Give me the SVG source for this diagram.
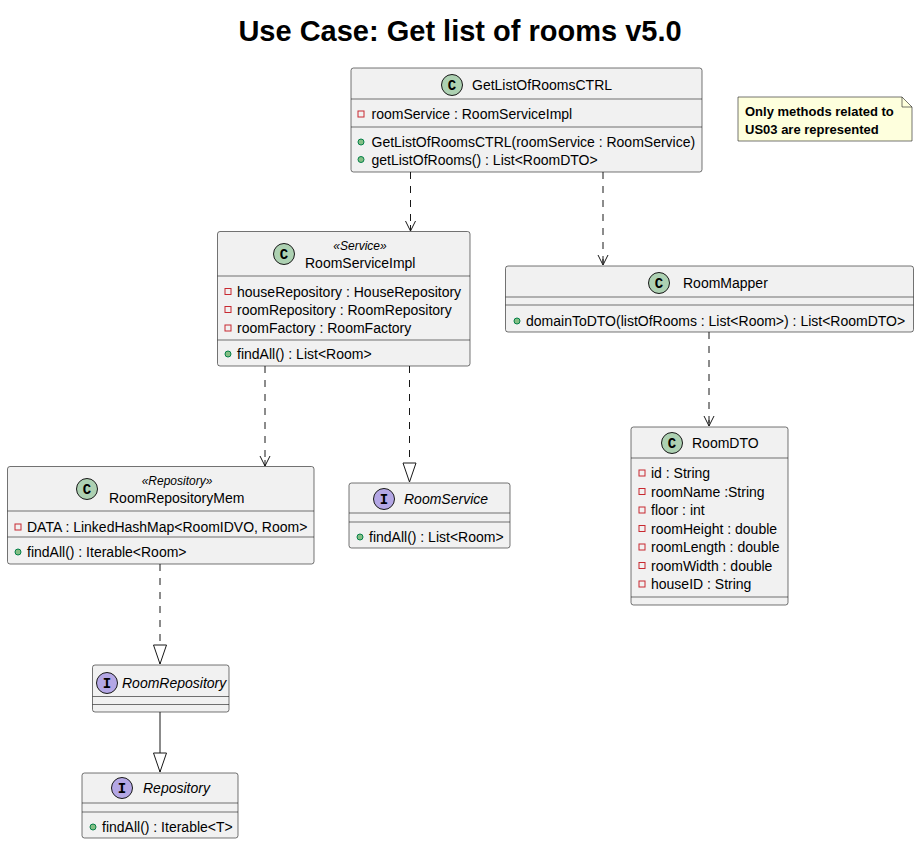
<svg xmlns="http://www.w3.org/2000/svg" width="920" height="845" viewBox="0 0 920 845">
<defs>
<style>
text{font-family:"Liberation Sans",Arial,sans-serif;fill:#000;}
.title{font-size:29px;font-weight:bold;}
.name{font-size:14px;}
.iname{font-size:14px;font-style:italic;}
.st{font-size:12px;font-style:italic;}
.m{font-size:14px;}
.note{font-size:13px;font-weight:bold;}
.box{fill:#F1F1F1;stroke:#181818;stroke-width:0.6;}
.sep{stroke:#181818;stroke-width:0.6;}
.cc{fill:#ADD1B2;stroke:#181818;stroke-width:1;}
.ci{fill:#B4A7E5;stroke:#181818;stroke-width:1;}
.cl{font-size:14px;font-weight:bold;text-anchor:middle;font-family:"Liberation Mono","Courier New",monospace;}
.priv{fill:none;stroke:#C82930;stroke-width:1;}
.pub{fill:#84BE84;stroke:#038048;stroke-width:1;}
.dep{stroke:#181818;stroke-width:1;fill:none;stroke-dasharray:7,7;}
.sol{stroke:#181818;stroke-width:1;fill:none;}
</style>
<marker id="open" markerUnits="userSpaceOnUse" markerWidth="14" markerHeight="14" viewBox="0 0 14 14" refX="11" refY="7" orient="auto">
<path d="M1,2 L11,7 L1,12 M5,7 L11,7" fill="none" stroke="#181818" stroke-width="1"/>
</marker>
<marker id="tri" markerUnits="userSpaceOnUse" markerWidth="22" markerHeight="16" viewBox="0 0 22 16" refX="20" refY="8" orient="auto">
<path d="M1,1.5 L20,8 L1,14.5 Z" fill="#fff" stroke="#181818" stroke-width="1"/>
</marker>
</defs>
<rect width="920" height="845" fill="#fff"/>
<text class="title" x="460" y="41" text-anchor="middle">Use Case: Get list of rooms v5.0</text>

<g id="connectors">
<line class="dep" x1="410.5" y1="172" x2="410.5" y2="231" marker-end="url(#open)"/>
<line class="dep" x1="603" y1="172" x2="603" y2="265" marker-end="url(#open)"/>
<line class="dep" x1="265" y1="366" x2="265" y2="466" marker-end="url(#open)"/>
<line class="dep" x1="409.5" y1="366" x2="409.5" y2="482" marker-end="url(#tri)"/>
<line class="dep" x1="709" y1="332" x2="709" y2="426" marker-end="url(#open)"/>
<line class="dep" x1="160" y1="564" x2="160" y2="664" marker-end="url(#tri)"/>
<line class="sol" x1="160" y1="712" x2="160" y2="772" marker-end="url(#tri)"/>
</g>

<g id="GetListOfRoomsCTRL">
<rect class="box" x="351" y="68" width="351" height="104" rx="2.5"/>
<line class="sep" x1="351" y1="99" x2="702" y2="99"/>
<line class="sep" x1="351" y1="127" x2="702" y2="127"/>
<circle class="cc" cx="452" cy="85" r="10.5"/>
<text class="cl" x="452" y="90">C</text>
<text class="name" x="472" y="90">GetListOfRoomsCTRL</text>
<rect class="priv" x="358" y="111" width="6" height="6"/>
<text class="m" x="371.5" y="119">roomService : RoomServiceImpl</text>
<circle class="pub" cx="361" cy="142" r="3"/>
<text class="m" x="371.5" y="147">GetListOfRoomsCTRL(roomService : RoomService)</text>
<circle class="pub" cx="361" cy="159.5" r="3"/>
<text class="m" x="371.5" y="164.5">getListOfRooms() : List&lt;RoomDTO&gt;</text>
</g>

<g id="note">
<path d="M738,97 L902,97 L912,107 L912,141 L738,141 Z" fill="#FEFFDD" stroke="#181818" stroke-width="0.6"/>
<path d="M902,97 L902,107 L912,107" fill="none" stroke="#181818" stroke-width="0.6"/>
<text class="note" x="745" y="116">Only methods related to</text>
<text class="note" x="745" y="134">US03 are represented</text>
</g>

<g id="RoomServiceImpl">
<rect class="box" x="217.5" y="231.5" width="252.5" height="134.5" rx="2.5"/>
<line class="sep" x1="217.5" y1="276" x2="470" y2="276"/>
<line class="sep" x1="217.5" y1="340" x2="470" y2="340"/>
<circle class="cc" cx="284" cy="254" r="10.5"/>
<text class="cl" x="284" y="259">C</text>
<text class="st" x="360" y="250" text-anchor="middle">«Service»</text>
<text class="name" x="305" y="268">RoomServiceImpl</text>
<rect class="priv" x="225" y="288.5" width="6" height="6"/>
<text class="m" x="237" y="296.5">houseRepository : HouseRepository</text>
<rect class="priv" x="225" y="306.5" width="6" height="6"/>
<text class="m" x="237" y="314.5">roomRepository : RoomRepository</text>
<rect class="priv" x="225" y="325" width="6" height="6"/>
<text class="m" x="237" y="333">roomFactory : RoomFactory</text>
<circle class="pub" cx="228" cy="354" r="3"/>
<text class="m" x="237" y="359">findAll() : List&lt;Room&gt;</text>
</g>

<g id="RoomMapper">
<rect class="box" x="505.5" y="266" width="408" height="66" rx="2.5"/>
<line class="sep" x1="505.5" y1="297" x2="913.5" y2="297"/>
<line class="sep" x1="505.5" y1="305" x2="913.5" y2="305"/>
<circle class="cc" cx="659" cy="283" r="10.5"/>
<text class="cl" x="659" y="288">C</text>
<text class="name" x="683" y="288">RoomMapper</text>
<circle class="pub" cx="517" cy="321" r="3"/>
<text class="m" x="526" y="326">domainToDTO(listOfRooms : List&lt;Room&gt;) : List&lt;RoomDTO&gt;</text>
</g>

<g id="RoomRepositoryMem">
<rect class="box" x="7.5" y="466.5" width="306.5" height="97.5" rx="2.5"/>
<line class="sep" x1="7.5" y1="511" x2="314" y2="511"/>
<line class="sep" x1="7.5" y1="537" x2="314" y2="537"/>
<circle class="cc" cx="87" cy="489" r="10.5"/>
<text class="cl" x="87" y="494">C</text>
<text class="st" x="177" y="485" text-anchor="middle">«Repository»</text>
<text class="name" x="109" y="503">RoomRepositoryMem</text>
<rect class="priv" x="15" y="524" width="6" height="6"/>
<text class="m" x="27" y="532">DATA : LinkedHashMap&lt;RoomIDVO, Room&gt;</text>
<circle class="pub" cx="18" cy="552" r="3"/>
<text class="m" x="27" y="557">findAll() : Iterable&lt;Room&gt;</text>
</g>

<g id="RoomService">
<rect class="box" x="349" y="483" width="161" height="65" rx="2.5"/>
<line class="sep" x1="349" y1="513" x2="510" y2="513"/>
<line class="sep" x1="349" y1="522" x2="510" y2="522"/>
<circle class="ci" cx="384" cy="499" r="10.5"/>
<text class="cl" x="384" y="504">I</text>
<text class="iname" x="404" y="504">RoomService</text>
<circle class="pub" cx="360" cy="537" r="3"/>
<text class="m" x="369" y="542">findAll() : List&lt;Room&gt;</text>
</g>

<g id="RoomDTO">
<rect class="box" x="631" y="427" width="157" height="178" rx="2.5"/>
<line class="sep" x1="631" y1="458" x2="788" y2="458"/>
<line class="sep" x1="631" y1="597" x2="788" y2="597"/>
<circle class="cc" cx="672" cy="443" r="10.5"/>
<text class="cl" x="672" y="448">C</text>
<text class="name" x="692" y="448">RoomDTO</text>
<rect class="priv" x="639" y="470" width="6" height="6"/>
<text class="m" x="651" y="478">id : String</text>
<rect class="priv" x="639" y="488.5" width="6" height="6"/>
<text class="m" x="651" y="496.5">roomName :String</text>
<rect class="priv" x="639" y="507" width="6" height="6"/>
<text class="m" x="651" y="515">floor : int</text>
<rect class="priv" x="639" y="525.5" width="6" height="6"/>
<text class="m" x="651" y="533.5">roomHeight : double</text>
<rect class="priv" x="639" y="544" width="6" height="6"/>
<text class="m" x="651" y="552">roomLength : double</text>
<rect class="priv" x="639" y="562.5" width="6" height="6"/>
<text class="m" x="651" y="570.5">roomWidth : double</text>
<rect class="priv" x="639" y="581" width="6" height="6"/>
<text class="m" x="651" y="589">houseID : String</text>
</g>

<g id="RoomRepository">
<rect class="box" x="92.5" y="665" width="136.5" height="47" rx="2.5"/>
<line class="sep" x1="92.5" y1="696.5" x2="229" y2="696.5"/>
<line class="sep" x1="92.5" y1="704.5" x2="229" y2="704.5"/>
<circle class="ci" cx="107" cy="683" r="10.5"/>
<text class="cl" x="107" y="688">I</text>
<text class="iname" x="122" y="688">RoomRepository</text>
</g>

<g id="Repository">
<rect class="box" x="82" y="773" width="156" height="65" rx="2.5"/>
<line class="sep" x1="82" y1="803" x2="238" y2="803"/>
<line class="sep" x1="82" y1="812" x2="238" y2="812"/>
<circle class="ci" cx="122" cy="788" r="10.5"/>
<text class="cl" x="122" y="793">I</text>
<text class="iname" x="143" y="793">Repository</text>
<circle class="pub" cx="93" cy="827" r="3"/>
<text class="m" x="102" y="832">findAll() : Iterable&lt;T&gt;</text>
</g>
</svg>
